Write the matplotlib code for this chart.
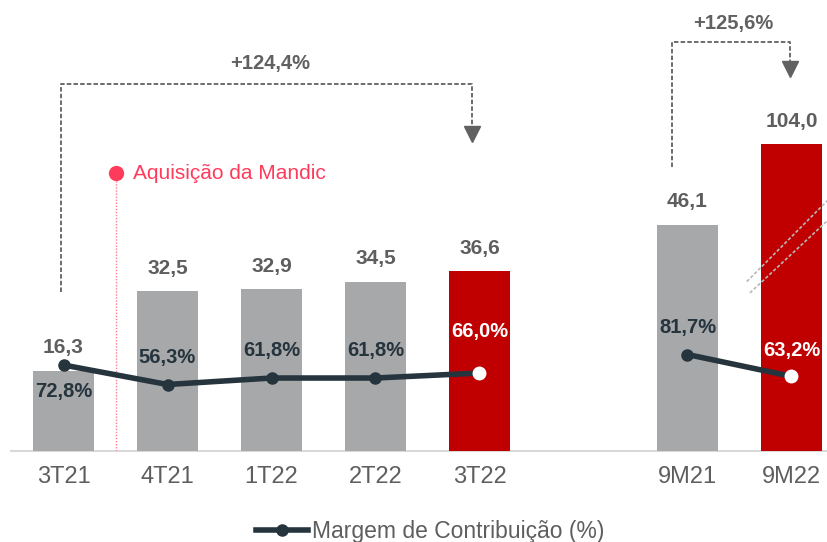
import matplotlib
matplotlib.use("Agg")
import matplotlib.pyplot as plt
from matplotlib.lines import Line2D

plt.rcParams['font.family'] = ['Liberation Sans', 'DejaVu Sans']

# ---- data ----
categories = ["3T21", "4T21", "1T22", "2T22", "3T22", "9M21", "9M22"]
x_pos = [0, 1, 2, 3, 4, 6, 7]
receita = [16.3, 32.5, 32.9, 34.5, 36.6, 46.1, 104.0]
margem = [72.8, 56.3, 61.8, 61.8, 66.0, 81.7, 63.2]
value_labels = ["16,3", "32,5", "32,9", "34,5", "36,6", "46,1", "104,0"]
margem_labels = ["72,8%", "56,3%", "61,8%", "61,8%", "66,0%", "81,7%", "63,2%"]
highlight = [False, False, False, False, True, False, True]
growth_labels = ["+124,4%", "+125,6%"]
event_label = "Aquisição da Mandic"
legend_label = "Margem de Contribuição (%)"

# ---- styles ----
GREY_BAR = "#a7a8aa"
RED = "#c00000"
TXT_GREY = "#5e5e5e"
DARK = "#25343d"
PINK = "#ff3b5c"
broken_cap = 62.5           # displayed height of the broken (axis-break) bar
pct_offsets = [26, -27, -28, -28, -42, -27, -26]   # pixel offsets of % labels

fig = plt.figure(figsize=(8.28, 5.42), dpi=100)
ax = fig.add_axes([0, 91 / 542, 1, 451 / 542])
ax.set_xlim(-63.5 / 104, (828 - 63.5) / 104)
ax.set_ylim(0, 451 / 4.91)
for s in ax.spines.values():
    s.set_visible(False)
ax.set_yticks([])
ax.set_xticks(x_pos)
ax.set_xticklabels(categories, fontsize=17, color=TXT_GREY)
ax.tick_params(axis='x', length=0, pad=10.5)

# baseline
ax.plot([-0.505, 7.36], [0, 0], color="#d9d9d9", lw=1.5, clip_on=False, zorder=1)

heights = [min(v, broken_cap) for v in receita]
colors = [RED if h else GREY_BAR for h in highlight]
bars = ax.bar(x_pos, heights, width=0.59, color=colors, zorder=2)

for xi, h, lab in zip(x_pos, heights, value_labels):
    ax.annotate(lab, (xi, h), xytext=(0, 23), textcoords='offset pixels',
                ha='center', va='center', fontsize=15, fontweight='bold',
                color=TXT_GREY, zorder=5)

# break marks on the 9M22 bar
ax.plot([6.57, 7.36], [34.5, 51.3], color="#b8b8b8", lw=1.2, ls=(0, (2, 1.2)), zorder=3, clip_on=False)
ax.plot([6.60, 7.36], [32.2, 47.2], color="#b8b8b8", lw=1.2, ls=(0, (2, 1.2)), zorder=3, clip_on=False)

# event marker (Mandic)
ax.plot([0.50, 0.50], [0, 56.6], color="#ff7d93", lw=1.0, ls=(0, (1, 1.2)), zorder=1.5)
ax.plot([0.50], [56.6], 'o', color=PINK, ms=10, zorder=4)
ax.text(0.668, 56.6, event_label, color=PINK, fontsize=15, va='center', ha='left')

# growth brackets
dash = (0, (2.5, 1.2))
GC = "#616161"
ax.plot([-0.02, -0.02, 3.93, 3.93], [32.4, 74.7, 74.7, 65.5], color=GC, lw=1.3, ls=dash)
ax.plot([3.93], [63.0 + 1.55], marker='v', color=GC, ms=11, zorder=4)
ax.text(1.99, 79.0, growth_labels[0], ha='center', va='center', fontsize=14.5,
        fontweight='bold', color=GC)
ax.plot([5.85, 5.85, 6.99, 6.99], [57.9, 83.4, 83.4, 78.6], color=GC, lw=1.3, ls=dash)
ax.plot([6.99], [76.2 + 1.55], marker='v', color=GC, ms=11, zorder=4)
ax.text(6.44, 87.1, growth_labels[1], ha='center', va='center', fontsize=14.5,
        fontweight='bold', color=GC)

# margin line (secondary axis)
ax2 = ax.twinx()
ax2.set_ylim(0, 451 / 1.181)
ax2.set_xlim(ax.get_xlim())
ax2.axis('off')
ax2.plot(x_pos[:5], margem[:5], color=DARK, lw=4, solid_capstyle='round', zorder=3)
ax2.plot(x_pos[5:], margem[5:], color=DARK, lw=4, solid_capstyle='round', zorder=3)
for xi, m, h in zip(x_pos, margem, highlight):
    if h:
        ax2.plot([xi], [m], 'o', color='white', mec='white', ms=9, zorder=4)
    else:
        ax2.plot([xi], [m], 'o', color=DARK, ms=8, zorder=4)
for xi, m, lab, h, off in zip(x_pos, margem, margem_labels, highlight, pct_offsets):
    ax2.annotate(lab, (xi, m), xytext=(0, -off), textcoords='offset pixels',
                 ha='center', va='center', fontsize=14.5, fontweight='bold',
                 color='white' if h else DARK, zorder=5)

# legend
handle = Line2D([], [], color=DARK, lw=4, marker='o', ms=8)
fig.legend([handle], [legend_label], loc='center', bbox_to_anchor=(430 / 828, 1 - 531.5 / 542),
           frameon=False, fontsize=16.5, labelcolor=TXT_GREY, handlelength=2.3,
           handletextpad=0.15)

fig.savefig("out.png", dpi=100)
